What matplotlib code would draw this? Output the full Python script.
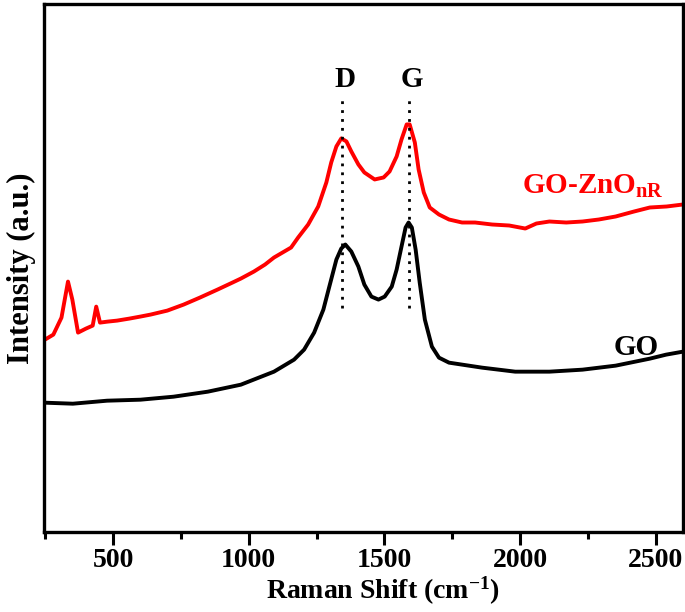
import matplotlib

matplotlib.use("Agg")
import matplotlib.pyplot as plt
from matplotlib.ticker import MultipleLocator

plt.rcParams["font.family"] = ["Liberation Serif", "DejaVu Serif"]
plt.rcParams["font.weight"] = "bold"
plt.rcParams["mathtext.fontset"] = "custom"
plt.rcParams["mathtext.rm"] = "Liberation Serif:bold"
plt.rcParams["mathtext.bf"] = "Liberation Serif:bold"
plt.rcParams["mathtext.it"] = "Liberation Serif:bold"

# GO-ZnO nanorod spectrum (arbitrary units)
zno_shift = [249, 280, 310, 334, 350, 371, 400, 425, 438, 452, 480, 515, 560,
             600, 638, 700, 760, 820, 885, 940, 971, 1019, 1060, 1093, 1156,
             1182, 1219, 1256, 1286, 1304, 1323, 1341, 1360, 1378, 1404, 1426,
             1464, 1497, 1519, 1545, 1563, 1582, 1593, 1612, 1626, 1645, 1667,
             1701, 1738, 1786, 1834, 1897, 1960, 2019, 2060, 2108, 2170, 2230,
             2290, 2352, 2420, 2478, 2540, 2600]
zno_int = [198, 203, 220, 256, 238, 205, 209, 212, 231, 215, 216, 217, 219,
           221, 223, 227, 233, 240, 248, 255, 259, 266, 273, 280, 290,
           300, 313, 331, 355, 375, 391, 399, 396, 386, 373, 365,
           358, 360, 366, 381, 398, 413, 413, 395, 368, 345, 330,
           323, 318, 315, 315, 313, 312, 309, 314, 316, 315, 316,
           318, 321, 326, 330, 331, 333]

# plain GO spectrum
go_shift = [249, 352, 478, 601, 723, 849, 971, 1093, 1167, 1204, 1241, 1275,
            1297, 1323, 1341, 1356, 1378, 1404, 1426, 1452, 1478, 1501, 1527,
            1545, 1563, 1578, 1589, 1601, 1615, 1630, 1649, 1675, 1701, 1738,
            1860, 1982, 2108, 2230, 2352, 2478, 2538, 2600]
go_int = [135, 134, 137, 138, 141, 146, 153, 166, 178, 188, 205, 228,
          251, 278, 289, 293, 286, 271, 253, 241, 238, 241, 251,
          268, 291, 310, 315, 310, 288, 255, 218, 191, 180, 175,
          170, 166, 166, 168, 172, 179, 183, 186]

band_pos = [1345, 1590]
band_names = ["D", "G"]

fig = plt.figure(figsize=(6.85, 6.12), dpi=100)
ax = fig.add_axes((0.064, 0.131, 0.933, 0.862))

ax.plot(zno_shift, zno_int, color="#ff0000", lw=2.8, solid_joinstyle="round")
ax.plot(go_shift, go_int, color="black", lw=2.8, solid_joinstyle="round")

for pos, name in zip(band_pos, band_names):
    ax.plot([pos, pos], [230, 437], color="black", lw=2.0, ls=(0, (1, 2.2)))
    ax.text(pos + 10, 458, name, ha="center", va="center", fontsize=21,
            fontweight="bold")

ax.text(2267, 351, r"GO-ZnO$_{\mathbf{nR}}$", color="#ff0000", ha="center",
        va="center", fontsize=21, fontweight="bold")
ax.text(2426, 190, "GO", color="black", ha="center", va="center",
        fontsize=21, fontweight="bold")

ax.set_xlim(245, 2600)
ax.set_ylim(6, 533)
ax.xaxis.set_major_locator(MultipleLocator(500))
ax.xaxis.set_minor_locator(MultipleLocator(250))
ax.set_yticks([])
ax.tick_params(axis="x", which="major", direction="out", length=9, width=2.2,
               labelsize=20, pad=3)
ax.tick_params(axis="x", which="minor", direction="out", length=5, width=2.2)
for s in ax.spines.values():
    s.set_linewidth(2.4)

ax.set_xlabel(r"Raman Shift (cm$^{\mathbf{-1}}$)", fontsize=20, fontweight="bold")
ax.xaxis.label.set_va("center")
ax.xaxis.set_label_coords(0.53, -0.112)
ax.set_ylabel("Intensity (a.u.)", fontsize=22, fontweight="bold", labelpad=6)

fig.savefig("out.png", dpi=100)
